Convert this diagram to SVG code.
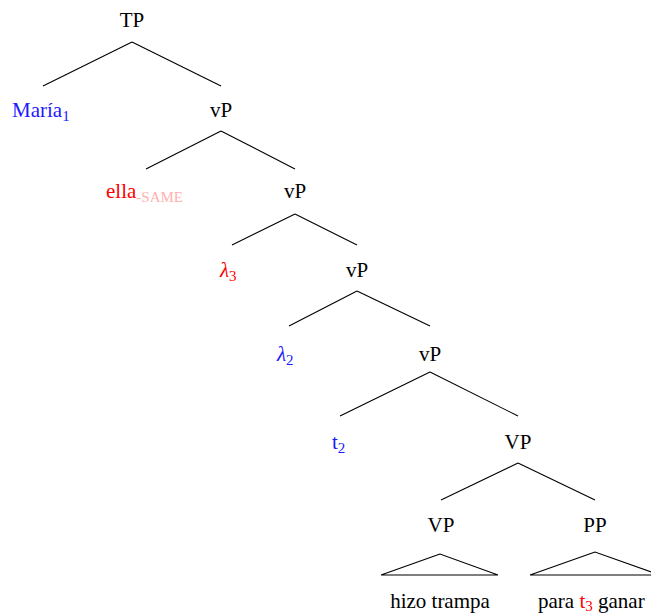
<svg xmlns="http://www.w3.org/2000/svg" width="651" height="615" viewBox="0 0 651 615">
<style>
text{font-family:"Liberation Serif","Times New Roman",serif;font-size:21px;fill:#000}
.l{text-anchor:middle}
.b{fill:#1a1aff}
.r{fill:#ff0000}
.p{fill:#ffb0b0}
.sub{font-size:15px}
.sm{font-size:15px}
.it{font-style:italic}
line,polygon{stroke:#000;stroke-width:1.1;fill:none}
</style>
<rect width="651" height="615" fill="#fff"/>
<g id="connectors">
<line x1="132" y1="42" x2="43" y2="86"/>
<line x1="132" y1="42" x2="221" y2="86"/>
<line x1="221" y1="131" x2="146" y2="169"/>
<line x1="221" y1="131" x2="295" y2="169"/>
<line x1="295" y1="214" x2="232" y2="245"/>
<line x1="295" y1="214" x2="357" y2="245"/>
<line x1="357" y1="291" x2="289" y2="326"/>
<line x1="357" y1="291" x2="430" y2="326"/>
<line x1="430" y1="372" x2="340" y2="416"/>
<line x1="430" y1="372" x2="518" y2="416"/>
<line x1="518" y1="463" x2="441" y2="500"/>
<line x1="518" y1="463" x2="595" y2="500"/>
<polygon points="440,554 381,575 498,575"/>
<polygon points="595,552 530,575 660,575"/>
</g>
<g id="TP"><text class="l" x="132" y="27">TP</text></g>
<g id="Maria"><text class="b" x="12" y="117">María<tspan class="sub" dy="4">1</tspan></text></g>
<g id="vP1"><text class="l" x="221" y="117">vP</text></g>
<g id="ella"><text class="r" x="106" y="198">ella<tspan class="p sm" dy="4">-SAME</tspan></text></g>
<g id="vP2"><text class="l" x="295" y="198">vP</text></g>
<g id="lambda3"><text class="r" x="220" y="277"><tspan class="it">λ</tspan><tspan class="sub" dy="4">3</tspan></text></g>
<g id="vP3"><text class="l" x="357" y="277">vP</text></g>
<g id="lambda2"><text class="b" x="277" y="361"><tspan class="it">λ</tspan><tspan class="sub" dy="4">2</tspan></text></g>
<g id="vP4"><text class="l" x="430" y="361">vP</text></g>
<g id="t2"><text class="b" x="332" y="449">t<tspan class="sub" dy="4">2</tspan></text></g>
<g id="VP1"><text class="l" x="518" y="449">VP</text></g>
<g id="VP2"><text class="l" x="441" y="532">VP</text></g>
<g id="PP"><text class="l" x="595" y="532">PP</text></g>
<g id="hizo"><text class="l" x="440" y="608">hizo trampa</text></g>
<g id="para"><text x="538" y="608">para <tspan class="r">t</tspan><tspan class="r sub" dy="3">3</tspan><tspan dy="-3"> ganar</tspan></text></g>
</svg>
